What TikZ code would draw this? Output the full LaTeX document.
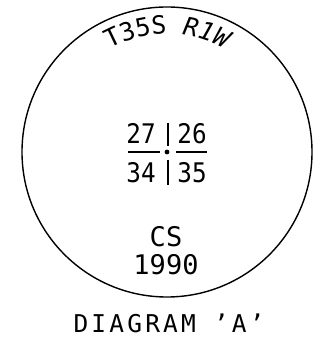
\documentclass[tikz,border=0pt]{standalone}
\usepackage{fontspec}
\setmainfont{DejaVu Sans Mono}
\newfontfamily\cadfont{DejaVu Sans Mono}
\newfontfamily\diagfont{DejaVu Sans Mono}[LetterSpace=13]
\usetikzlibrary{decorations.text}
\tikzset{
  ink/.style={line width=1.4pt, draw=black},
  bar/.style={line width=2pt, draw=black},
  numtext/.style={inner sep=0pt, font=\cadfont\fontsize{27}{27}\selectfont},
  captext/.style={inner sep=0pt, font=\diagfont\fontsize{24.5}{25}\selectfont},
}
\begin{document}
\begin{tikzpicture}[x=1pt,y=1pt]
\useasboundingbox (0,0) rectangle (324,347);
\coordinate (c) at (167,195);
\draw[ink] (c) circle[radius=145pt];
% arc text
\path[decorate, decoration={text along path,
   text={|\cadfont\fontsize{25}{25}\selectfont|T35S |\cadfont\itshape\fontsize{25}{25}\selectfont|R1W},
   text align=center}]
   (c) ++(124:118pt) arc[start angle=124, end angle=56, radius=118pt];
% section numbers
\node[numtext, xscale=0.9] (n27) at (141,213.5) {27};
\node[numtext, xscale=0.9] (n26) at (192,213.5) {26};
\node[numtext, xscale=0.9] (n34) at (141,174) {34};
\node[numtext, xscale=0.9] (n35) at (192,174) {35};
\coordinate (vt1) at (167.5,224);
\coordinate (vt2) at (167.5,201);
\coordinate (vb1) at (167.5,187);
\coordinate (vb2) at (167.5,162);
\coordinate (hl1) at (128,195);
\coordinate (hl2) at (160,195);
\coordinate (hr1) at (176,195);
\coordinate (hr2) at (207,195);
\draw[bar] (vt1) -- (vt2);
\draw[bar] (vb1) -- (vb2);
\draw[ink] (hl1) -- (hl2);
\draw[ink] (hr1) -- (hr2);
\fill (c) circle[radius=2.4pt];
% bottom texts
\node[numtext] (cs) at (166,110.5) {CS};
\node[numtext] (yr) at (166,82.5) {1990};
\node[captext, anchor=base] (cap) at (169,14) {DIAGRAM \textquoteright A\textquoteright};
\end{tikzpicture}
\end{document}
